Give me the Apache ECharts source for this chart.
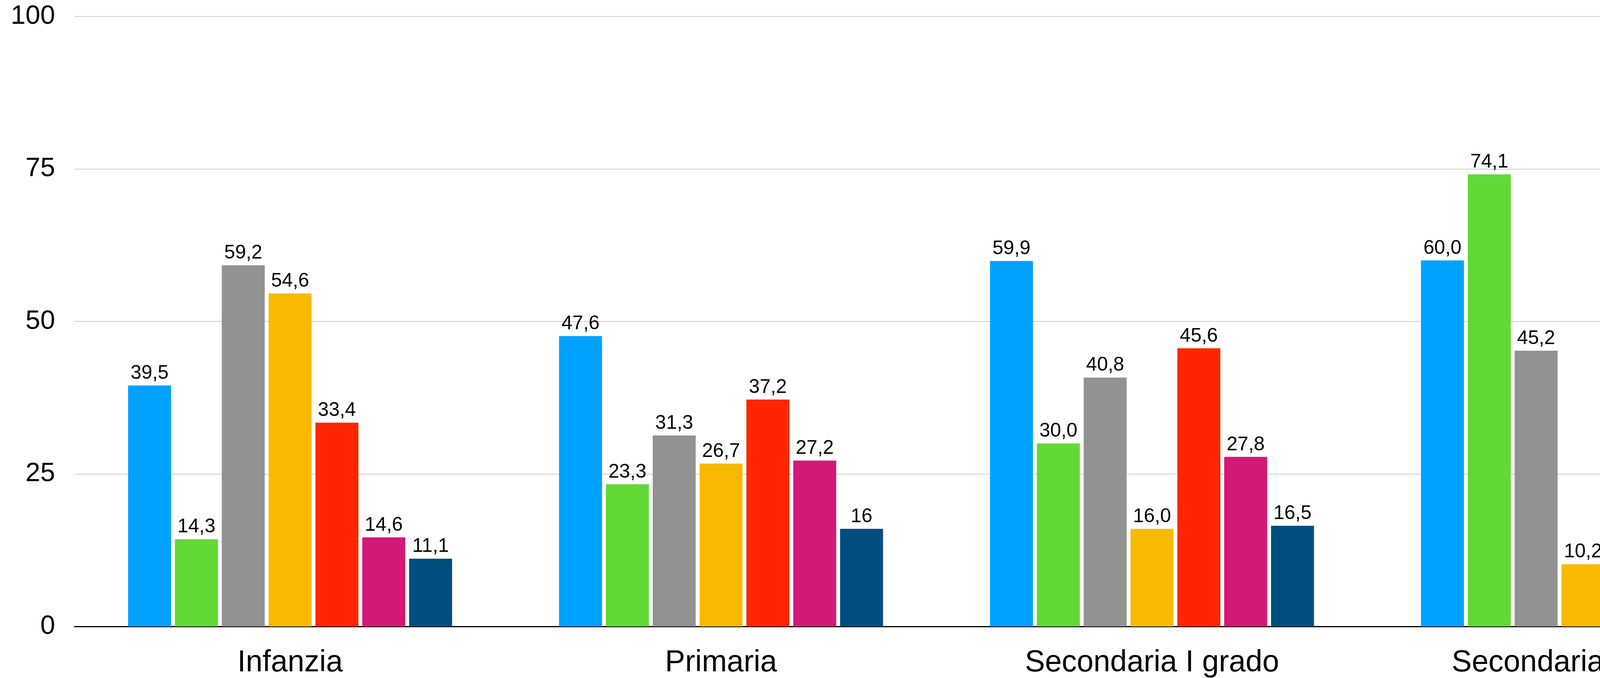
<!DOCTYPE html>
<html>
<head>
<meta charset="utf-8">
<script src="https://cdn.jsdelivr.net/npm/echarts@6/dist/echarts.min.js"></script>
<style>
html,body{margin:0;padding:0;background:#fff;overflow:hidden;}
#chart{width:4630px;height:1736px;}
</style>
</head>
<body>
<div id="chart"></div>
<script>
const categories = ['Infanzia', 'Primaria', 'Secondaria I grado', 'Secondaria II grado'];
const yTicks = [0, 25, 50, 75, 100];
const s1 = [39.5, 47.6, 59.9, 60.0];
const s2 = [14.3, 23.3, 30.0, 74.1];
const s3 = [59.2, 31.3, 40.8, 45.2];
const s4 = [54.6, 26.7, 16.0, 10.2];
const s5 = [33.4, 37.2, 45.6, 25.0];
const s6 = [14.6, 27.2, 27.8, 8.6];
const s7 = [11.1, 16, 16.5, 6.8];
const s7Labels = ['11,1', '16', '16,5', '6,8'];

const seriesValues = [s1, s2, s3, s4, s5, s6, s7];
const colors = ['#00A2FF', '#61D836', '#929292', '#F8BA00', '#FF2600', '#D31876', '#004D7F'];
const FONT = '"Liberation Sans", Arial, Helvetica, sans-serif';

const fmt = v => v.toFixed(1).replace('.', ',');

const series = seriesValues.map((vals, i) => ({
  type: 'bar',
  data: vals.map((v, j) => {
    const item = { value: v };
    if (i === 6) item.label = { formatter: s7Labels[j] };
    return item;
  }),
  barWidth: 110,
  barGap: '9%',
  itemStyle: { color: colors[i] },
  label: {
    show: true,
    position: 'top',
    distance: 6,
    color: '#000',
    fontFamily: FONT,
    fontSize: 50,
    formatter: p => fmt(p.value)
  }
}));

const chart = echarts.init(document.getElementById('chart'), null, { renderer: 'canvas' });
chart.setOption({
  animation: false,
  backgroundColor: '#fff',
  grid: { left: 191, right: 26, top: 42, bottom: 129, containLabel: false },
  xAxis: {
    type: 'category',
    data: categories,
    axisLine: { show: true, lineStyle: { color: '#000', width: 3 } },
    axisTick: { show: false },
    axisLabel: { color: '#000', fontFamily: FONT, fontSize: 77, margin: 55 },
    splitLine: { show: false }
  },
  yAxis: {
    type: 'value',
    min: yTicks[0],
    max: yTicks[yTicks.length - 1],
    interval: 25,
    axisLine: { show: false },
    axisTick: { show: false },
    axisLabel: { color: '#000', fontFamily: FONT, fontSize: 68, margin: 50 },
    splitLine: { show: true, lineStyle: { color: '#CCCCCC', width: 2 } }
  },
  series: series
});
</script>
</body>
</html>
